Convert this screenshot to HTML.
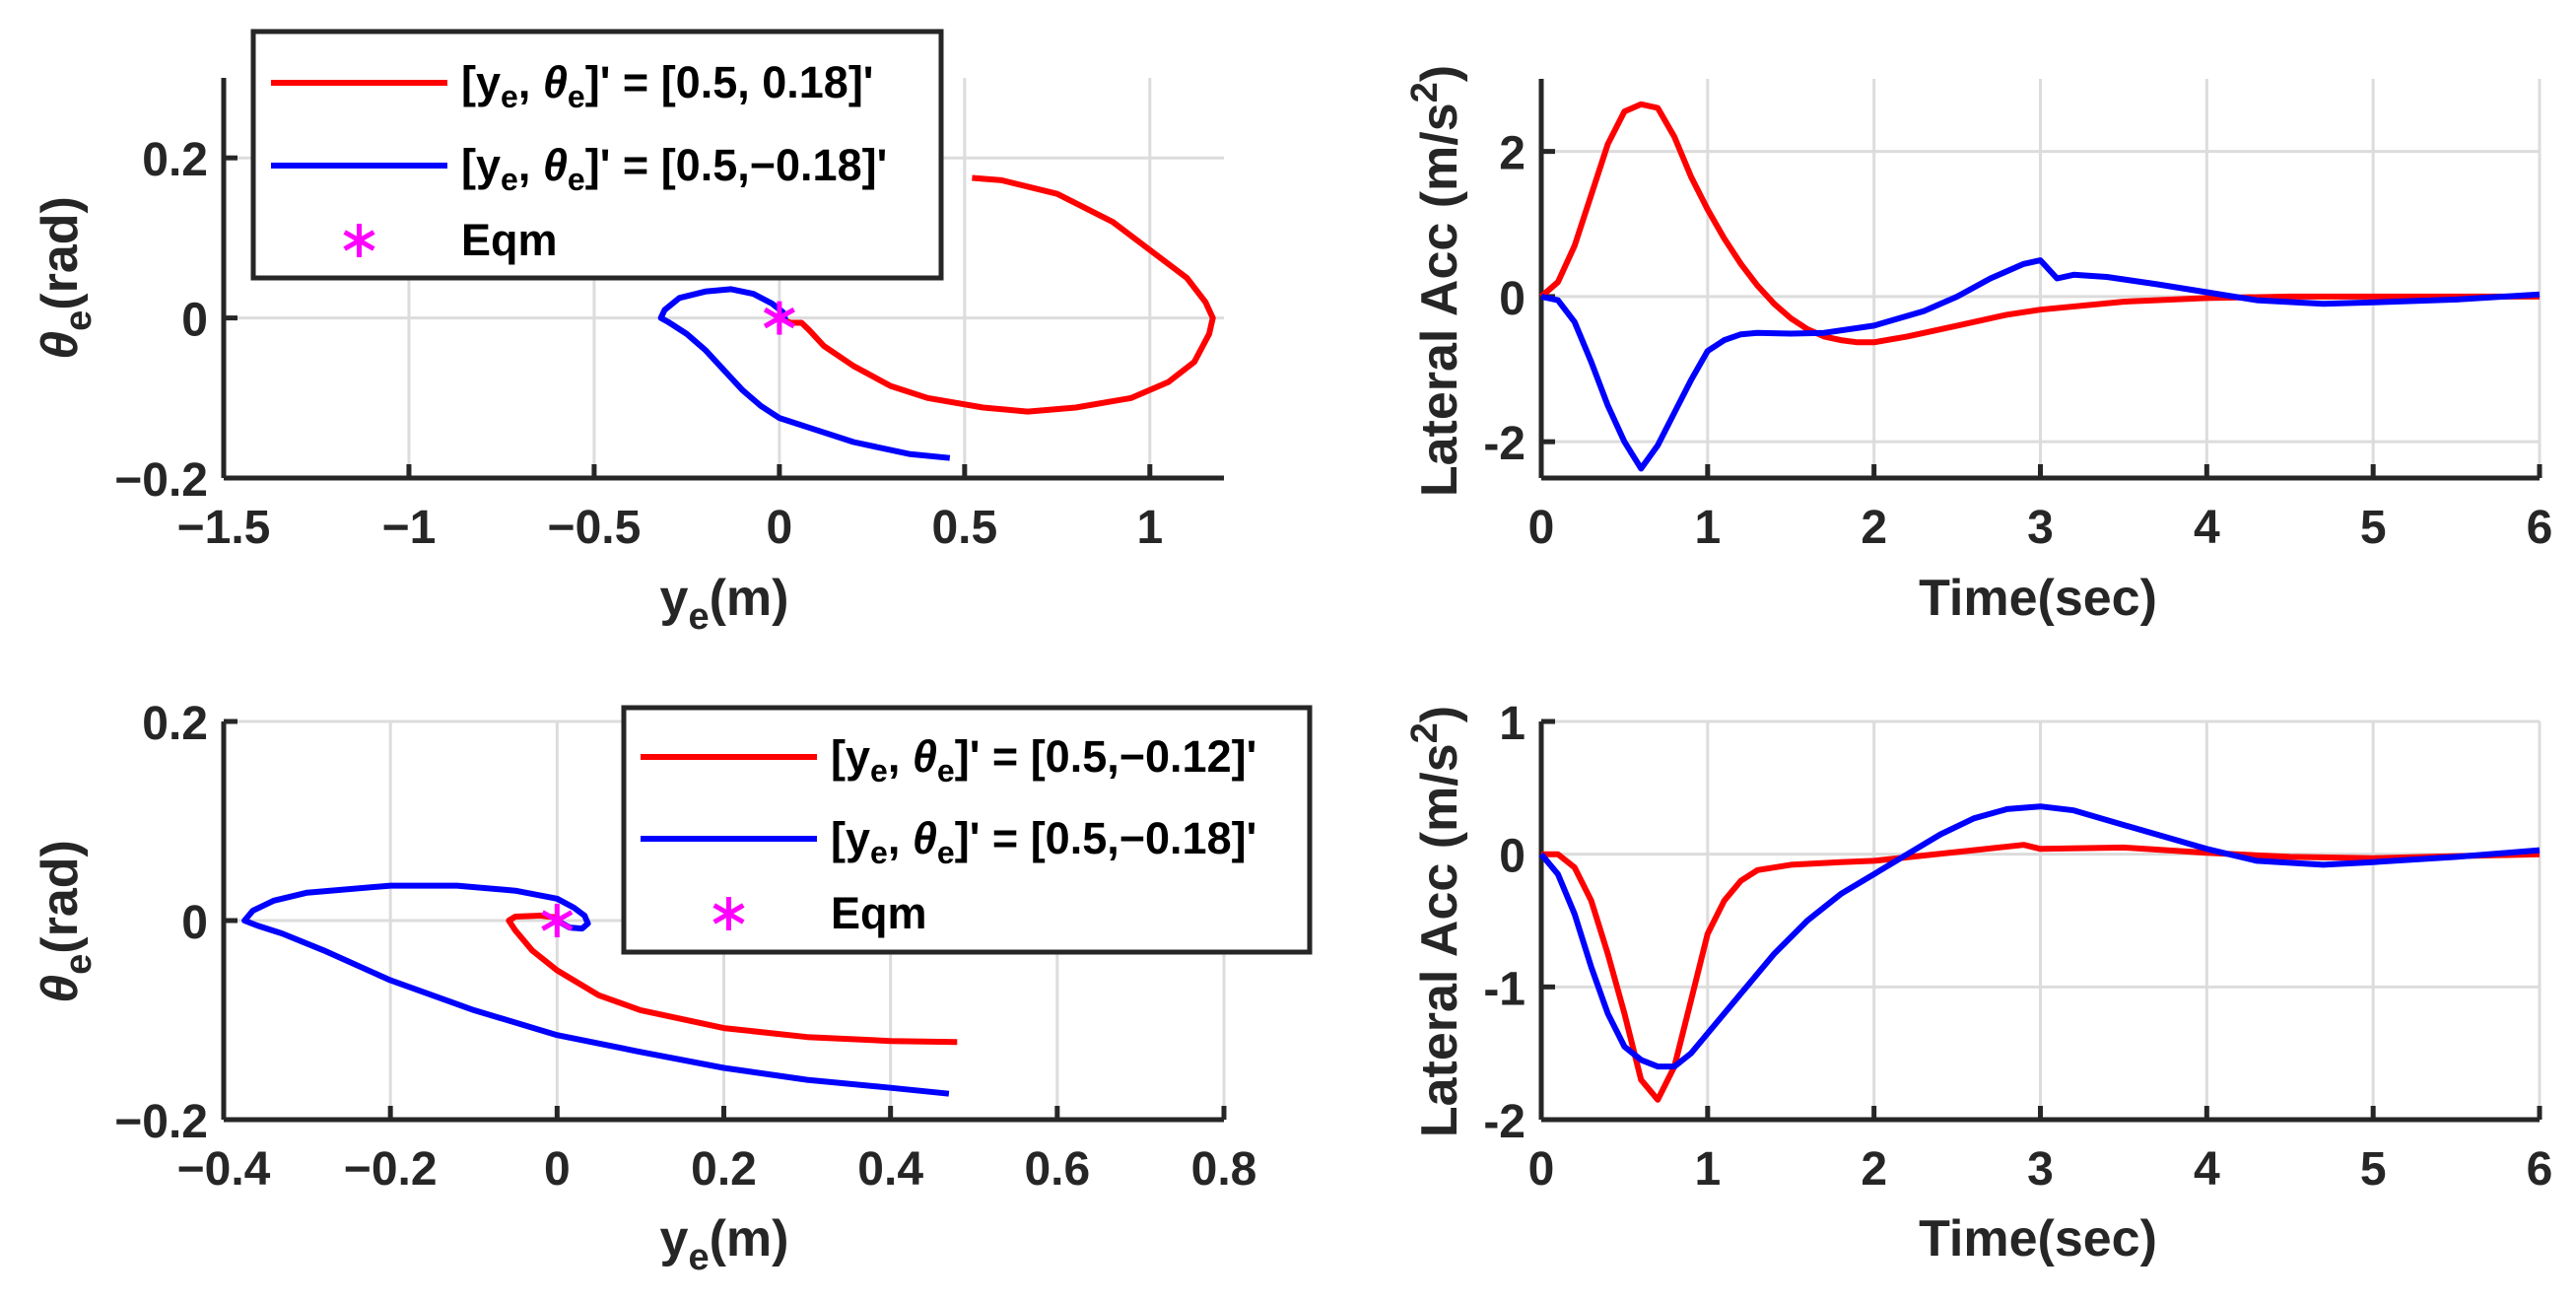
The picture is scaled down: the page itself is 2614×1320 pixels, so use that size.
<!DOCTYPE html>
<html><head><meta charset="utf-8"><style>
html,body{margin:0;padding:0;background:#fff;}
svg{display:block;font-family:"Liberation Sans",Arial,sans-serif;font-weight:bold;}
</style></head><body>
<svg id="fig" width="2614" height="1320" viewBox="0 0 2614 1320" xmlns="http://www.w3.org/2000/svg">
<rect width="2614" height="1320" fill="#fff"/>
</svg>
<script>
// ---- data ----
const p1RedY = [0.52,0.6,0.75,0.9,1.0,1.1,1.15,1.17,1.16,1.12,1.05,0.95,0.8,0.67,0.55,0.4,0.3,0.2,0.12,0.08,0.06,0.03,0.01,0];
const p1RedT = [0.175,0.172,0.155,0.12,0.085,0.05,0.02,0,-0.02,-0.055,-0.08,-0.1,-0.112,-0.117,-0.112,-0.1,-0.085,-0.06,-0.035,-0.015,-0.006,-0.006,-0.002,0];
const p1BlueY = [0.46,0.35,0.2,0.1,0,-0.05,-0.1,-0.15,-0.2,-0.25,-0.3,-0.32,-0.31,-0.27,-0.2,-0.13,-0.07,-0.02,0.01,0.015,0];
const p1BlueT = [-0.175,-0.17,-0.155,-0.14,-0.125,-0.11,-0.09,-0.065,-0.04,-0.02,-0.005,0,0.01,0.025,0.033,0.036,0.03,0.018,0.007,0,0];
const p2Time = [0,0.1,0.2,0.3,0.4,0.5,0.6,0.7,0.8,0.9,1.0,1.1,1.2,1.3,1.4,1.5,1.6,1.7,1.8,1.9,2.0,2.2,2.5,2.8,3.0,3.5,4.0,4.5,5.0,6.0];
const p2Red = [0,0.2,0.7,1.4,2.1,2.55,2.65,2.6,2.2,1.65,1.2,0.8,0.45,0.15,-0.1,-0.3,-0.45,-0.55,-0.6,-0.63,-0.63,-0.55,-0.4,-0.25,-0.18,-0.07,-0.02,0,0,0];
const p2BlueTime = [0,0.1,0.2,0.3,0.4,0.5,0.6,0.7,0.8,0.9,1.0,1.1,1.2,1.3,1.5,1.7,2.0,2.3,2.5,2.7,2.9,3.0,3.1,3.2,3.4,3.7,4.0,4.3,4.7,5.0,5.5,6.0];
const p2Blue = [0,-0.05,-0.35,-0.9,-1.5,-2.0,-2.37,-2.05,-1.6,-1.15,-0.75,-0.6,-0.52,-0.5,-0.51,-0.5,-0.4,-0.2,0,0.25,0.45,0.5,0.25,0.3,0.27,0.17,0.06,-0.05,-0.1,-0.08,-0.04,0.03];
const p3RedY = [0.48,0.4,0.3,0.2,0.1,0.05,0,-0.03,-0.05,-0.058,-0.05,-0.02,0,0];
const p3RedT = [-0.122,-0.121,-0.117,-0.108,-0.09,-0.075,-0.05,-0.03,-0.01,0,0.004,0.005,0.003,0];
const p3BlueY = [0.47,0.4,0.3,0.2,0.1,0,-0.1,-0.2,-0.28,-0.33,-0.36,-0.375,-0.365,-0.34,-0.3,-0.2,-0.12,-0.05,0,0.02,0.033,0.037,0.03,0.015,0];
const p3BlueT = [-0.174,-0.168,-0.16,-0.148,-0.132,-0.115,-0.09,-0.06,-0.03,-0.013,-0.005,0,0.01,0.02,0.028,0.035,0.035,0.03,0.022,0.013,0.005,-0.003,-0.008,-0.007,0];
const p4Time = [0,0.1,0.2,0.3,0.4,0.5,0.6,0.7,0.8,0.9,1.0,1.1,1.2,1.3,1.5,1.8,2.0,2.3,2.6,2.9,3.0,3.5,4.0,4.5,5.0,6.0];
const p4Red = [0,0,-0.1,-0.35,-0.75,-1.2,-1.7,-1.85,-1.6,-1.1,-0.6,-0.35,-0.2,-0.12,-0.08,-0.06,-0.05,-0.01,0.03,0.07,0.04,0.05,0.01,-0.02,-0.03,0];
const p4BlueTime = [0,0.1,0.2,0.3,0.4,0.5,0.6,0.7,0.8,0.9,1.0,1.2,1.4,1.6,1.8,2.0,2.2,2.4,2.6,2.8,3.0,3.2,3.5,4.0,4.3,4.7,5.0,5.5,6.0];
const p4Blue = [0,-0.15,-0.45,-0.85,-1.2,-1.45,-1.55,-1.6,-1.6,-1.5,-1.35,-1.05,-0.75,-0.5,-0.3,-0.15,0,0.15,0.27,0.34,0.36,0.33,0.22,0.04,-0.05,-0.08,-0.06,-0.02,0.03];
const p1XTicks = [-1.5,-1,-0.5,0,0.5,1];
const p1XTickLabels = ['\u22121.5','\u22121','\u22120.5','0','0.5','1'];
const p1YTicks = [-0.2,0,0.2];
const p1YTickLabels = ['\u22120.2','0','0.2'];
const p3XTicks = [-0.4,-0.2,0,0.2,0.4,0.6,0.8];
const p3XTickLabels = ['\u22120.4','\u22120.2','0','0.2','0.4','0.6','0.8'];
const p3YTicks = [-0.2,0,0.2];
const p3YTickLabels = ['\u22120.2','0','0.2'];
const timeTicks = [0,1,2,3,4,5,6];
const timeTickLabels = ['0','1','2','3','4','5','6'];
const p2YTicks = [-2,0,2];
const p2YTickLabels = ['-2','0','2'];
const p4YTicks = [-2,-1,0,1];
const p4YTickLabels = ['-2','-1','0','1'];

const NS='http://www.w3.org/2000/svg';
const svg=document.getElementById('fig');
function mk(tag,attrs,parent){const e=document.createElementNS(NS,tag);for(const k in attrs)e.setAttribute(k,attrs[k]);(parent||svg).appendChild(e);return e;}

function axes(name,L,R,T,B,xmin,xmax,ymin,ymax,xt,xtl,yt,ytl){
  const g=mk('g',{});
  
  
  const sx=v=>L+(v-xmin)/(xmax-xmin)*(R-L);
  const sy=v=>B-(v-ymin)/(ymax-ymin)*(B-T);
  xt.forEach((v,i)=>{
    const x=sx(v);
    const gl=mk('line',{x1:x,x2:x,y1:T,y2:B,stroke:'#dcdcdc','stroke-width':3},g);
    
    
    mk('line',{x1:x,x2:x,y1:B,y2:B-14,stroke:'#262626','stroke-width':5},g);
    const t=mk('text',{x:x,y:B+66,'text-anchor':'middle','font-size':48,fill:'#262626'},g);
    t.textContent=xtl[i];
    
    
  });
  yt.forEach((v,i)=>{
    const y=sy(v);
    const gl=mk('line',{x1:L,x2:R,y1:y,y2:y,stroke:'#dcdcdc','stroke-width':3},g);
    
    
    mk('line',{x1:L,x2:L+14,y1:y,y2:y,stroke:'#262626','stroke-width':5},g);
    const t=mk('text',{x:L-16,y:y+18,'text-anchor':'end','font-size':48,fill:'#262626'},g);
    t.textContent=ytl[i];
    
    
  });
  mk('line',{x1:L,x2:R,y1:B,y2:B,stroke:'#262626','stroke-width':5},g);
  mk('line',{x1:L,x2:L,y1:T,y2:B,stroke:'#262626','stroke-width':5},g);
  return {sx,sy,g};
}
function series(ax,xs,ys,color,name){
  const d=xs.map((v,i)=>(i?'L':'M')+ax.sx(v).toFixed(1)+' '+ax.sy(ys[i]).toFixed(1)).join(' ');
  const p=mk('path',{d:d,fill:'none',stroke:color,'stroke-width':6,'stroke-linejoin':'round'},ax.g);
  
  
}
function star(ax,x,y,name){
  const cx=ax.sx(x),cy=ax.sy(y);
  const g=mk('g',{stroke:'#ff00ff','stroke-width':5},ax.g);
  
  
  drawStar(g,cx,cy);
}
function drawStar(g,cx,cy){
  const r=17;
  mk('line',{x1:cx,x2:cx,y1:cy-r,y2:cy+r},g);
  mk('line',{x1:cx-r*0.87,x2:cx+r*0.87,y1:cy-r*0.5,y2:cy+r*0.5},g);
  mk('line',{x1:cx-r*0.87,x2:cx+r*0.87,y1:cy+r*0.5,y2:cy-r*0.5},g);
}
function legend(name,x,y,w,h,lx1,lx2,tx,rows,labels){
  const g=mk('g',{});
  
  
  mk('rect',{x:x,y:y,width:w,height:h,fill:'#fff',stroke:'#262626','stroke-width':5},g);
  const cols=['#ff0000','#0000ff'];
  labels.forEach((lab,i)=>{
    const ry=rows[i];
    const e=mk('g',{},g);
    
    
    if(i<2) mk('line',{x1:lx1,x2:lx2,y1:ry,y2:ry,stroke:cols[i],'stroke-width':6},e);
    else { const sg=mk('g',{stroke:'#ff00ff','stroke-width':5},e); drawStar(sg,(lx1+lx2)/2,ry); }
    const t=mk('text',{x:tx,y:ry+15,'font-size':45,fill:'#000'},e);
    t.innerHTML=lab;
  });
}
const lab=(a,b)=>'[y<tspan font-size="32" dy="10">e</tspan><tspan dy="-10">, </tspan><tspan font-style="italic">&#952;</tspan><tspan font-size="32" dy="10">e</tspan><tspan dy="-10">]\' = ['+a+','+b+']\'</tspan>';

function ylabelTheta(x,cy){
  const t=mk('text',{transform:`translate(${x},${cy}) rotate(-90)`,'text-anchor':'middle','font-size':52,fill:'#262626'});
  t.innerHTML='<tspan font-style="italic">&#952;</tspan><tspan font-size="38" dy="14">e</tspan><tspan dy="-14">(rad)</tspan>';
  
  
}
function xlabelY(cx,y){
  const t=mk('text',{x:cx,y:y,'text-anchor':'middle','font-size':52,fill:'#262626'});
  t.innerHTML='y<tspan font-size="38" dy="14">e</tspan><tspan dy="-14">(m)</tspan>';
  
  
}
function ylabelAcc(x,cy){
  const t=mk('text',{transform:`translate(${x},${cy}) rotate(-90)`,'text-anchor':'middle','font-size':52,fill:'#262626'});
  t.innerHTML='Lateral Acc (m/s<tspan font-size="38" dy="-20">2</tspan><tspan dy="20">)</tspan>';
  
  
}
function xlabelTime(cx,y){
  const t=mk('text',{x:cx,y:y,'text-anchor':'middle','font-size':52,fill:'#262626'});
  t.textContent='Time(sec)';
  
  
}

// Plot 1
const a1=axes('phase-plot-top',227,1242,79,485,-1.5,1.2,-0.2,0.3,p1XTicks,p1XTickLabels,p1YTicks,p1YTickLabels);
series(a1,p1RedY,p1RedT,'#ff0000','red-trajectory');
series(a1,p1BlueY,p1BlueT,'#0000ff','blue-trajectory');
star(a1,0,0,'equilibrium-marker');
legend('legend-top-left',257,32,698,250,275,454,468,[84,168,244],[lab('0.5',' 0.18'),lab('0.5','\u22120.18'),'Eqm']);
ylabelTheta(78,282);
xlabelY(735,624);

// Plot 2
const a2=axes('accel-plot-top',1564,2577,80,485,0,6,-2.5,3,timeTicks,timeTickLabels,p2YTicks,p2YTickLabels);
series(a2,p2Time,p2Red,'#ff0000','red-accel');
series(a2,p2BlueTime,p2Blue,'#0000ff','blue-accel');
ylabelAcc(1478,285);
xlabelTime(2068,624);

// Plot 3
const a3=axes('phase-plot-bottom',227,1242,732,1136,-0.4,0.8,-0.2,0.2,p3XTicks,p3XTickLabels,p3YTicks,p3YTickLabels);
series(a3,p3RedY,p3RedT,'#ff0000','red-trajectory');
series(a3,p3BlueY,p3BlueT,'#0000ff','blue-trajectory');
star(a3,0,0,'equilibrium-marker');
legend('legend-bottom-left',633,718,696,248,650,829,843,[768,851,927],[lab('0.5','\u22120.12'),lab('0.5','\u22120.18'),'Eqm']);
ylabelTheta(78,935);
xlabelY(735,1274);

// Plot 4
const a4=axes('accel-plot-bottom',1564,2577,732,1136,0,6,-2,1,timeTicks,timeTickLabels,p4YTicks,p4YTickLabels);
series(a4,p4Time,p4Red,'#ff0000','red-accel');
series(a4,p4BlueTime,p4Blue,'#0000ff','blue-accel');
ylabelAcc(1478,935);
xlabelTime(2068,1274);
</script>
</body></html>
